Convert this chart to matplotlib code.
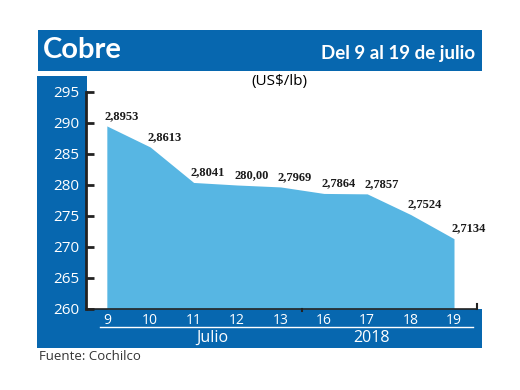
import matplotlib
matplotlib.use("Agg")
import matplotlib.pyplot as plt
from matplotlib.patches import Rectangle
from matplotlib.lines import Line2D

# Data
days = ["9", "10", "11", "12", "13", "16", "17", "18", "19"]
prices = [289.53, 286.13, 280.41, 280.00, 279.69, 278.64, 278.57, 275.24, 271.34]
labels = ["2,8953", "2,8613", "2,8041", "280,00", "2,7969", "2,7864", "2,7857", "2,7524", "2,7134"]
yticks = [260, 265, 270, 275, 280, 285, 290, 295]

DARK = "#0767AF"
LIGHT = "#57B6E3"
W, H = 520, 390

fig = plt.figure(figsize=(5.2, 3.9), dpi=100)
fig.patch.set_facecolor("white")

def rect(x0, y0, x1, y1, color):
    # pixel coords from top-left
    fig.add_artist(Rectangle((x0 / W, 1 - y1 / H), (x1 - x0) / W, (y1 - y0) / H,
                             transform=fig.transFigure, facecolor=color,
                             edgecolor="none", zorder=-10))

# header bar
rect(38, 30, 482, 71, DARK)
# left panel
rect(37, 76, 87, 348, DARK)
# bottom panel
rect(37, 309, 482, 348, DARK)

fig.text(43 / W, 1 - 50 / H, "Cobre", color="white", fontsize=21, fontweight="bold",
         family="Lato", ha="left", va="center")
fig.text(475 / W, 1 - 53 / H, "Del 9 al 19 de julio", color="white", fontsize=13.5,
         fontweight="bold", family="Lato", ha="right", va="center")
fig.text(279 / W, 1 - 82 / H, "(US$/lb)", color="black", fontsize=11,
         family="Open Sans", ha="center", va="center")
fig.text(39 / W, 1 - 356 / H, "Fuente: Cochilco", color="#333333", fontsize=9.5,
         family="Open Sans", ha="left", va="center")

# axes
ax = fig.add_axes([86 / W, 1 - 309 / H, (477 - 86) / W, (309 - 92) / H])
ax.set_facecolor("none")
x = list(range(len(days)))
ax.fill_between(x, prices, 260, color=LIGHT, linewidth=0, zorder=1)
ax.set_xlim(-0.48, 8.53)
ax.set_ylim(260, 295)

for xi, yi, lab in zip(x, prices, labels):
    ax.annotate(lab, (xi, yi), xytext=(-2, 3), textcoords="offset points",
                ha="left", va="bottom", fontsize=9, fontweight="bold",
                family="Liberation Serif", color="#1a1a1a")

for s in ["top", "right"]:
    ax.spines[s].set_visible(False)
ax.spines["left"].set_color("#222222")
ax.spines["left"].set_linewidth(2)
ax.spines["bottom"].set_color("#222222")
ax.spines["bottom"].set_linewidth(1.2)

ax.set_yticks(yticks)
ax.set_yticklabels([str(v) for v in yticks])
ax.tick_params(axis="y", direction="in", length=6, width=2, color="#222222",
               labelcolor="white", labelsize=11, pad=5)
for t in ax.get_yticklabels():
    t.set_family("Open Sans")

ax.set_xticks(x)
ax.set_xticklabels(days)
ax.tick_params(axis="x", length=0, labelcolor="white", labelsize=10, pad=3)
for t in ax.get_xticklabels():
    t.set_family("Open Sans")

# right end tick of x axis
ax.plot([1, 1], [0, 0.025], transform=ax.transAxes, color="#222222", lw=1.5,
        clip_on=False)
# small break mark between 13 and 16
ax.plot([4.5, 4.5], [260, 259.6], color="#222222", lw=1.5, clip_on=False)

# separator line and group labels in bottom panel
fig.add_artist(Line2D([100 / W, 473 / W], [1 - 327 / H, 1 - 327 / H],
                      transform=fig.transFigure, color="white", lw=1))
fig.text(212 / W, 1 - 338 / H, "Julio", color="white", fontsize=11.5,
         family="Open Sans", ha="center", va="center")
fig.text(372 / W, 1 - 338 / H, "2018", color="white", fontsize=11.5,
         family="Open Sans", ha="center", va="center")

fig.savefig("out.png", dpi=100)
